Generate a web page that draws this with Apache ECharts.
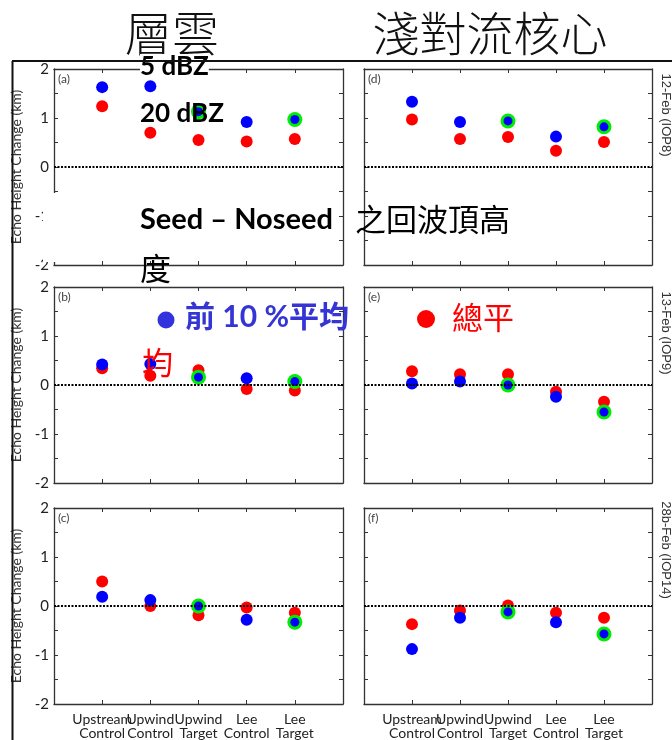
<!DOCTYPE html>
<html lang="zh-Hant">
<head>
<meta charset="UTF-8">
<title>Seed – Noseed 之回波頂高度</title>
<script src="https://cdn.jsdelivr.net/npm/echarts@6/dist/echarts.min.js"></script>
<style>
  html, body { margin: 0; padding: 0; background: #fff; }
  #chart { width: 672px; height: 740px; }
</style>
</head>
<body>
<div id="chart"></div>
<script>
  // categories along x (placed at 1..5 on a 0..6 axis)
  const categories = ['Upstream\nControl', 'Upwind\nControl', 'Upwind\nTarget', 'Lee\nControl', 'Lee\nTarget'];
  const catPos = [1, 2, 3, 4, 5];
  const targetIdx = [2, 4];   // columns with the green ring
  const panelTags = ['(a)', '(b)', '(c)', '(d)', '(e)', '(f)'];
  const caseNames = ['12-Feb (IOP8)', '13-Feb (IOP9)', '28b-Feb (IOP14)'];

  // red = 總平均, blue = 前10%平均 ; a-c 層雲, d-f 淺對流核心
  const meanA  = [1.24, 0.70, 0.55, 0.52, 0.57];
  const top10A = [1.63, 1.65, 1.13, 0.92, 0.97];
  const meanB  = [0.34, 0.19, 0.30, -0.08, -0.11];
  const top10B = [0.42, 0.43, 0.16, 0.14, 0.07];
  const meanC  = [0.50, 0.00, -0.19, -0.03, -0.14];
  const top10C = [0.19, 0.12, 0.00, -0.28, -0.33];
  const meanD  = [0.97, 0.57, 0.61, 0.33, 0.51];
  const top10D = [1.33, 0.92, 0.94, 0.62, 0.82];
  const meanE  = [0.28, 0.22, 0.22, -0.14, -0.34];
  const top10E = [0.03, 0.07, 0.00, -0.24, -0.55];
  const meanF  = [-0.37, -0.09, 0.01, -0.14, -0.24];
  const top10F = [-0.88, -0.24, -0.12, -0.33, -0.57];

  const LAT = 'Lato, "Noto Sans CJK TC", sans-serif';
  const CJK = '"Noto Sans CJK TC", sans-serif';
  const axisColor = '#333';

  const panels = [
    { mean: meanA, top10: top10A, col: 0, row: 0 },
    { mean: meanB, top10: top10B, col: 0, row: 1 },
    { mean: meanC, top10: top10C, col: 0, row: 2 },
    { mean: meanD, top10: top10D, col: 1, row: 0 },
    { mean: meanE, top10: top10E, col: 1, row: 1 },
    { mean: meanF, top10: top10F, col: 1, row: 2 }
  ];
  const colX = [54, 364], colW = [289, 288];
  const rowY = [69, 287, 508], rowH = 196;

  const grid = [], xAxis = [], yAxis = [], series = [], graphic = [];

  panels.forEach((p, i) => {
    const left = colX[p.col], top = rowY[p.row];
    grid.push({ left: left, top: top, width: colW[p.col], height: rowH, outerBoundsMode: 'none' });

    const line = { show: true, onZero: false, lineStyle: { color: axisColor, width: 1.3 } };
    const tick = { show: true, inside: true, length: 4, lineStyle: { color: axisColor, width: 1 } };

    xAxis.push({
      gridIndex: i, type: 'value', min: 0, max: 6, interval: 1, position: 'bottom',
      axisLine: line, axisTick: tick, splitLine: { show: false },
      axisLabel: {
        show: p.row === 2, margin: 8, color: '#222', fontSize: 14, fontFamily: LAT, lineHeight: 14,
        formatter: v => categories[v - 1] || ''
      }
    });
    xAxis.push({
      gridIndex: i, type: 'value', min: 0, max: 6, interval: 1, position: 'top',
      axisLine: line, axisTick: tick, splitLine: { show: false }, axisLabel: { show: false }
    });
    yAxis.push({
      gridIndex: i, type: 'value', min: -2, max: 2, interval: 0.5, position: 'left',
      axisLine: line, axisTick: tick, splitLine: { show: false },
      axisLabel: {
        show: p.col === 0, margin: 5, color: '#222', fontSize: 15, fontFamily: LAT,
        formatter: v => Number.isInteger(v) ? String(v) : ''
      },
      name: p.col === 0 ? 'Echo Height Change (km)' : '',
      nameLocation: 'middle', nameGap: 31,
      nameTextStyle: { color: '#333', fontSize: 14, fontFamily: LAT }
    });
    yAxis.push({
      gridIndex: i, type: 'value', min: -2, max: 2, interval: 0.5, position: 'right',
      axisLine: line, axisTick: tick, splitLine: { show: false }, axisLabel: { show: false }
    });

    const xi = 2 * i, yi = 2 * i;
    series.push({
      type: 'scatter', xAxisIndex: xi, yAxisIndex: yi, z: 2, silent: true,
      symbolSize: 12, itemStyle: { color: '#ff0000', opacity: 1 },
      data: catPos.map((x, k) => [x, p.mean[k]]),
      markLine: {
        silent: true, symbol: 'none', label: { show: false },
        lineStyle: { color: '#000', type: [2, 1.5], width: 2 },
        data: [{ yAxis: 0 }]
      }
    });
    series.push({
      type: 'scatter', xAxisIndex: xi, yAxisIndex: yi, z: 3, silent: true,
      symbolSize: 15, itemStyle: { color: '#00ee00', opacity: 1 },
      data: targetIdx.map(k => [catPos[k], p.top10[k]])
    });
    series.push({
      type: 'scatter', xAxisIndex: xi, yAxisIndex: yi, z: 4, silent: true,
      symbolSize: (v, params) => targetIdx.includes(params.dataIndex) ? 9 : 12,
      itemStyle: { color: '#0000ff', opacity: 1 },
      data: catPos.map((x, k) => [x, p.top10[k]])
    });

    // panel tag
    graphic.push({
      type: 'text', x: left + 4, y: top + 4, z: 50,
      style: { text: panelTags[i], fill: '#444', fontSize: 12, fontFamily: LAT, align: 'left', verticalAlign: 'top' }
    });
  });

  // case labels on the right
  [115, 333, 550].forEach((cy, r) => {
    graphic.push({
      type: 'text', x: 666, y: cy, rotation: -Math.PI / 2, z: 50,
      style: { text: caseNames[r], fill: '#333', fontSize: 13, fontFamily: '"Liberation Sans", Arial, sans-serif', align: 'center', verticalAlign: 'middle' }
    });
  });

  function txt(x, y, text, size, family, weight, fill, align, bg) {
    const style = { text: text, fontSize: size, fontFamily: family, fontWeight: weight, fill: fill, align: align || 'left', verticalAlign: 'middle' };
    if (bg) style.backgroundColor = bg;
    return { type: 'text', x: x, y: y, z: 100, style: style };
  }

  graphic.push(
    // outer frame
    { type: 'line', z: 60, shape: { x1: 12.5, y1: 61, x2: 12.5, y2: 740 }, style: { stroke: '#111', lineWidth: 2 } },
    { type: 'line', z: 60, shape: { x1: 12, y1: 61, x2: 672, y2: 61 }, style: { stroke: '#111', lineWidth: 2 } },
    // white patch over part of panel (a) axis
    { type: 'rect', z: 90, shape: { x: 43, y: 193, width: 17, height: 69 }, style: { fill: '#fff' } },
    // titles
    txt(172, 33, '層雲', 47, CJK, 300, '#111', 'center'),
    txt(490, 33, '淺對流核心', 47, CJK, 300, '#111', 'center'),
    // overlay annotation texts
    txt(140, 67, '5 dBZ', 26, LAT, 'bold', '#000', 'left', '#fff'),
    { type: 'line', z: 101, shape: { x1: 130, y1: 61, x2: 230, y2: 61 }, style: { stroke: '#111', lineWidth: 2 } },
    txt(140, 114, '20 dBZ', 26, LAT, 'bold', '#000'),
    txt(140, 220, 'Seed – Noseed', 29, LAT, 'bold', '#000'),
    txt(355, 219, '之回波頂高', 31, CJK, 'normal', '#000'),
    txt(140, 268, '度', 31, CJK, 'normal', '#000'),
    // legend
    { type: 'circle', z: 100, shape: { cx: 166, cy: 320, r: 8.5 }, style: { fill: '#3333dd' } },
    txt(185, 317, '前 10 %平均', 30, LAT, 'bold', '#3535d5'),
    txt(142, 362, '均', 31, CJK, 'normal', '#ff0000'),
    { type: 'circle', z: 100, shape: { cx: 426, cy: 319, r: 9 }, style: { fill: '#ff0000' } },
    txt(452, 317, '總平', 31, CJK, 'normal', '#ff0000')
  );

  const chart = echarts.init(document.getElementById('chart'), null, { renderer: 'canvas' });
  chart.setOption({
    animation: false,
    backgroundColor: '#fff',
    grid: grid,
    xAxis: xAxis,
    yAxis: yAxis,
    series: series,
    graphic: { elements: graphic }
  });
</script>
</body>
</html>
